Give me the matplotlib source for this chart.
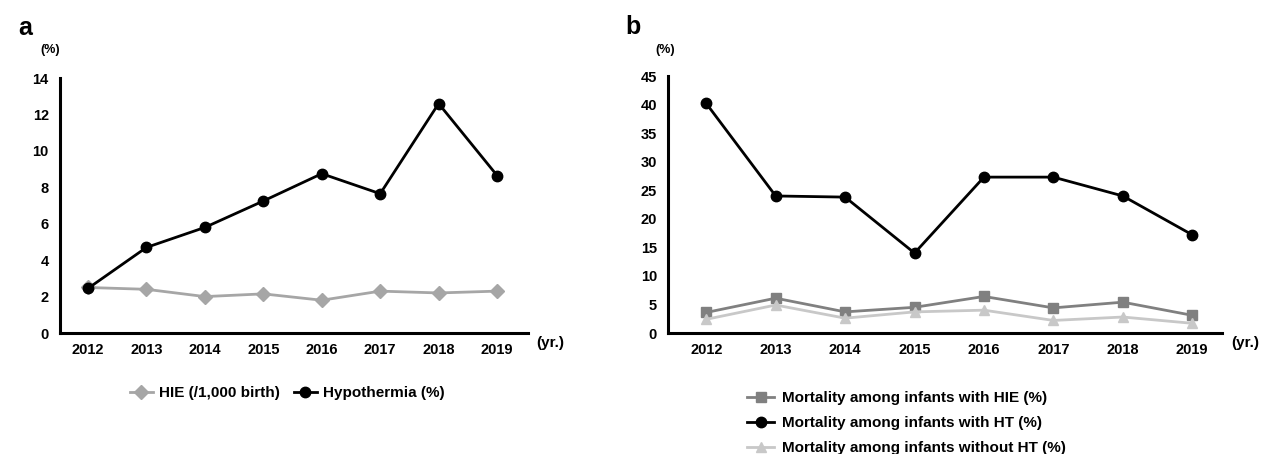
import matplotlib.pyplot as plt

plt.rcParams['font.family'] = ['Liberation Sans', 'DejaVu Sans']
plt.rcParams['font.weight'] = 'bold'

years = [2012, 2013, 2014, 2015, 2016, 2017, 2018, 2019]

# panel a
hie_per_1000 = [2.5, 2.4, 2.0, 2.15, 1.8, 2.3, 2.2, 2.3]
hypothermia_pct = [2.45, 4.7, 5.8, 7.25, 8.75, 7.65, 12.6, 8.65]

# panel b
mort_hie = [3.6, 6.1, 3.7, 4.5, 6.4, 4.4, 5.4, 3.1]
mort_ht = [40.2, 24.0, 23.8, 14.0, 27.3, 27.3, 24.0, 17.2]
mort_no_ht = [2.4, 4.9, 2.6, 3.7, 4.0, 2.2, 2.8, 1.7]

fig = plt.figure(figsize=(12.73, 4.54), dpi=100)
ax_a = fig.add_axes([0.0471, 0.2665, 0.3677, 0.5615])
ax_b = fig.add_axes([0.5248, 0.2665, 0.4352, 0.566])


def style_axes(ax, ymax, ystep):
    for side in ['top', 'right']:
        ax.spines[side].set_visible(False)
    for side in ['left', 'bottom']:
        ax.spines[side].set_linewidth(2.2)
    ax.set_ylim(0, ymax)
    ax.set_yticks(range(0, ymax + 1, ystep))
    ax.set_xticks(years)
    ax.tick_params(length=0, labelsize=10.5)
    ax.tick_params(axis='y', pad=8)
    ax.tick_params(axis='x', pad=7)


# --- panel a ---
ax_a.plot(years, hie_per_1000, color='#a6a6a6', lw=2, marker='D', ms=7,
          label='HIE (/1,000 birth)')
ax_a.plot(years, hypothermia_pct, color='black', lw=2, marker='o', ms=7.5,
          label='Hypothermia (%)')
ax_a.set_xlim(2011.52, 2019.53)
style_axes(ax_a, 14, 2)
ax_a.legend(loc='center left', bbox_to_anchor=(130 / 1273, 1 - 393 / 454),
            bbox_transform=fig.transFigure, ncol=2, frameon=False,
            fontsize=11, handlelength=1.5, handletextpad=0.4,
            columnspacing=0.9, borderpad=0, borderaxespad=0)

# --- panel b ---
ax_b.plot(years, mort_hie, color='#808080', lw=2, marker='s', ms=7,
          label='Mortality among infants with HIE (%)')
ax_b.plot(years, mort_ht, color='black', lw=2, marker='o', ms=7.5,
          label='Mortality among infants with HT (%)')
ax_b.plot(years, mort_no_ht, color='#c8c8c8', lw=2, marker='^', ms=7,
          label='Mortality among infants without HT (%)')
ax_b.set_xlim(2011.45, 2019.43)
style_axes(ax_b, 45, 5)
ax_b.legend(loc='upper left', bbox_to_anchor=(747 / 1273, 1 - 391 / 454),
            bbox_transform=fig.transFigure, frameon=False,
            fontsize=11, handlelength=1.8, handletextpad=0.5,
            labelspacing=0.72, borderpad=0, borderaxespad=0)

# labels
fig.text(25 / 1273, 1 - 28 / 454, 'a', fontsize=18, ha='center', va='center')
fig.text(633 / 1273, 1 - 27 / 454, 'b', fontsize=18, ha='center', va='center')
fig.text(50 / 1273, 1 - 50 / 454, '(%)', fontsize=9, ha='center', va='center')
fig.text(665 / 1273, 1 - 50 / 454, '(%)', fontsize=9, ha='center', va='center')
fig.text(550 / 1273, 1 - 343 / 454, '(yr.)', fontsize=11, ha='center', va='center')
fig.text(1245 / 1273, 1 - 343 / 454, '(yr.)', fontsize=11, ha='center', va='center')

fig.savefig('out.png', dpi=100)
